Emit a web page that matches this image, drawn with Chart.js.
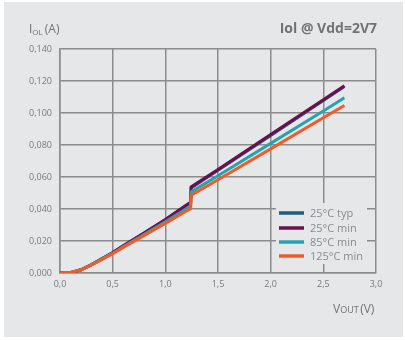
<!DOCTYPE html>
<html>
<head>
<meta charset="utf-8">
<script src="https://cdn.jsdelivr.net/npm/chart.js@4.4.0/dist/chart.umd.min.js"></script>
<style>
  html, body { margin: 0; padding: 0; background: #fff; }
</style>
</head>
<body>
<canvas id="chart" width="405" height="340"></canvas>
<script>
// Vout (V) sample points, the step sits at ~1.24 V
const vout   = [0, 0.1, 0.2, 0.3, 0.4, 0.5, 0.6, 0.8, 1.0, 1.2, 1.24, 1.245, 1.5, 2.0, 2.5, 2.7];
const typ25  = [0, 0.0002, 0.0020, 0.0052, 0.0089, 0.0127, 0.0168, 0.0249, 0.0331, 0.0420, 0.0438, 0.0532, 0.0642, 0.0860, 0.1078, 0.1165];
const min25  = [0, 0.0002, 0.0020, 0.0053, 0.0090, 0.0128, 0.0170, 0.0252, 0.0335, 0.0425, 0.0443, 0.0538, 0.0647, 0.0865, 0.1083, 0.1170];
const min85  = [0, 0.0003, 0.0021, 0.0052, 0.0088, 0.0124, 0.0164, 0.0242, 0.0320, 0.0402, 0.0418, 0.0507, 0.0608, 0.0810, 0.1013, 0.1095];
const min125 = [0, 0.0003, 0.0020, 0.0050, 0.0085, 0.0120, 0.0160, 0.0235, 0.0310, 0.0388, 0.0403, 0.0486, 0.0583, 0.0776, 0.0970, 0.1047];

const seriesNames = ["25°C typ", "25°C min", "85°C min", "125°C min"];
const seriesColors = ["#1c5f76", "#6a0f50", "#27a3af", "#f35a28"];

const xTicks = [0, 0.5, 1.0, 1.5, 2.0, 2.5, 3.0];
const yTicks = [0, 0.02, 0.04, 0.06, 0.08, 0.1, 0.12, 0.14];

const panelBg = "#e6e7e9";
const gridColor = "#8c8c8c";
const font = "'Open Sans', 'Noto Sans', sans-serif";

const toPoints = (ys) => vout.map((x, i) => ({ x, y: ys[i] }));

// draw order: orange on top, typ at the bottom
const allSeries = [typ25, min25, min85, min125];
const drawOrder = [3, 2, 1, 0];

const datasets = allSeries.map((ys, i) => ({
  label: seriesNames[i],
  data: toPoints(ys),
  borderColor: seriesColors[i],
  backgroundColor: seriesColors[i],
  borderWidth: 3,
  pointRadius: 0,
  tension: 0,
  order: drawOrder[i],
}));

// grey panel behind everything
const panelPlugin = {
  id: "panel",
  beforeDraw(chart) {
    const ctx = chart.ctx;
    ctx.save();
    ctx.fillStyle = panelBg;
    ctx.fillRect(4, 2, 399, 335);
    ctx.restore();
  },
};

// legend sitting inside the plot, bottom right
const innerLegend = {
  id: "innerLegend",
  afterDatasetsDraw(chart) {
    const ctx = chart.ctx;
    ctx.save();
    ctx.fillStyle = panelBg;
    ctx.fillRect(276, 203, 91, 61);
    const rows = [213, 228, 242, 256];
    chart.data.datasets.forEach((ds, i) => {
      ctx.strokeStyle = ds.borderColor;
      ctx.lineWidth = 3.5;
      ctx.beginPath();
      ctx.moveTo(279, rows[i]);
      ctx.lineTo(304, rows[i]);
      ctx.stroke();
      ctx.fillStyle = "#8a8a8a";
      ctx.font = "11px " + font;
      ctx.textBaseline = "middle";
      ctx.textAlign = "left";
      ctx.fillText(ds.label, 310, rows[i] + 0.5);
    });
    ctx.restore();
  },
};

// axis titles and chart title
const labelsPlugin = {
  id: "labels",
  afterDraw(chart) {
    const ctx = chart.ctx;
    ctx.save();
    ctx.fillStyle = "#727272";
    ctx.textBaseline = "alphabetic";

    // I_OL (A)
    ctx.textAlign = "left";
    ctx.font = "12px " + font;
    ctx.fillText("I", 29, 33);
    let x = 29 + ctx.measureText("I").width;
    ctx.font = "8px " + font;
    ctx.fillText("OL", x, 35);
    x += ctx.measureText("OL").width + 2;
    ctx.font = "12px " + font;
    ctx.fillText("(A)", x, 33);

    // title
    ctx.textAlign = "right";
    ctx.font = "bold 14px " + font;
    ctx.fillText("Iol @ Vdd=2V7", 377, 33);

    // V_OUT (V)
    ctx.textAlign = "left";
    ctx.font = "12px " + font;
    let vx = 333;
    ctx.fillText("V", vx, 313);
    vx += ctx.measureText("V").width;
    ctx.font = "9px " + font;
    ctx.fillText("OUT", vx, 313);
    vx += ctx.measureText("OUT").width + 1.5;
    ctx.font = "12px " + font;
    ctx.fillText("(V)", vx, 313);
    ctx.restore();
  },
};

const fmt = (v, d) => v.toFixed(d).replace(".", ",");

new Chart(document.getElementById("chart"), {
  type: "line",
  data: { datasets },
  options: {
    responsive: false,
    animation: false,
    layout: { padding: { top: 49, right: 29, left: 0, bottom: 0 } },
    plugins: { legend: { display: false }, tooltip: { enabled: false } },
    scales: {
      x: {
        type: "linear",
        min: xTicks[0],
        max: xTicks[xTicks.length - 1],
        afterBuildTicks: (s) => { s.ticks = xTicks.map((v) => ({ value: v })); },
        afterFit: (s) => { s.height = 67; },
        ticks: {
          padding: 6,
          color: "#7a7a7a",
          font: { family: font, size: 9 },
          callback: (v) => fmt(v, 1),
          maxRotation: 0,
        },
        grid: { color: gridColor, lineWidth: 1.5, drawTicks: false },
        border: { color: gridColor, width: 1.5 },
      },
      y: {
        min: yTicks[0],
        max: yTicks[yTicks.length - 1],
        afterBuildTicks: (s) => { s.ticks = yTicks.map((v) => ({ value: v })); },
        afterFit: (s) => { s.width = 60; },
        ticks: {
          padding: 8,
          color: "#7a7a7a",
          font: { family: font, size: 9 },
          callback: (v) => fmt(v, 3),
        },
        grid: { color: gridColor, lineWidth: 1.5, drawTicks: false },
        border: { color: gridColor, width: 1.5 },
      },
    },
  },
  plugins: [panelPlugin, innerLegend, labelsPlugin],
});
</script>
</body>
</html>
